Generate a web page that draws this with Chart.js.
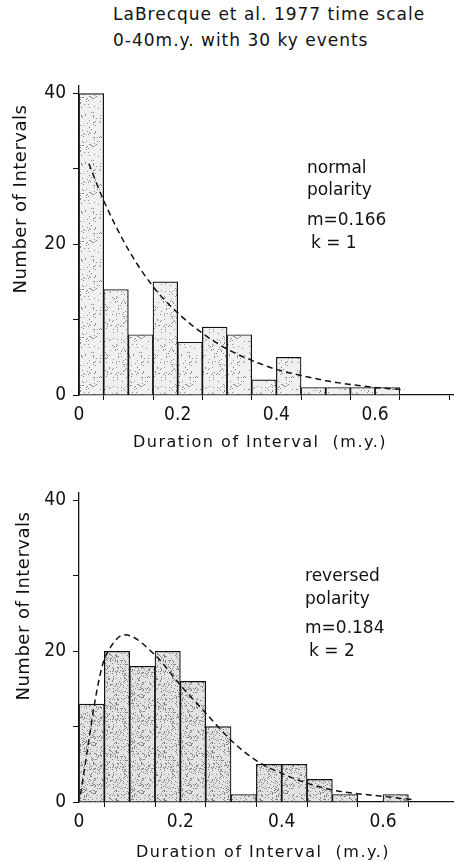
<!DOCTYPE html>
<html>
<head>
<meta charset="utf-8">
<script src="https://cdn.jsdelivr.net/npm/chart.js@4.4.0/dist/chart.umd.min.js"></script>
<style>
  body { margin:0; background:#fff; width:454px; height:862px; overflow:hidden; position:relative; font-family:"DejaVu Sans",sans-serif; }
  #head { position:absolute; left:113px; top:1px; font-size:17px; line-height:26px; color:#111; letter-spacing:1px; }
  #c1 { position:absolute; left:0; top:0; }
  #c2 { position:absolute; left:0; top:455px; }
</style>
</head>
<body>
<div id="head">LaBrecque et al. 1977 time scale<br>0-40m.y. with 30 ky events</div>
<canvas id="c1" width="454" height="455"></canvas>
<canvas id="c2" width="454" height="407"></canvas>
<script>
// histogram bins (centre of each 0.05 m.y. bin)
var binCenters = [0.025,0.075,0.125,0.175,0.225,0.275,0.325,0.375,0.425,0.475,0.525,0.575,0.625]
var normalCounts   = [40,14,8,15,7,9,8,2,5,1,1,1,1]
var reversedCounts = [13,20,18,20,16,10,1,5,5,3,1,0,1]

// dashed fitted curves
var normalCurveX = [0.02,0.05,0.1,0.15,0.2,0.25,0.3,0.35,0.4,0.45,0.5,0.55,0.6,0.66]
var normalCurveY = [30.7,25.8,19.3,14.4,10.9,8.2,6.1,4.6,3.4,2.6,1.9,1.4,1.0,0.7]
var reversedCurveX = [0.003,0.02,0.03,0.046,0.06,0.09,0.15,0.2,0.25,0.3,0.35,0.4,0.45,0.5,0.55,0.6,0.66]
var reversedCurveY = [1.0,8.4,12.8,18.1,20.3,22.2,19.5,15.5,11.8,8.2,5.5,3.8,2.5,1.6,1.1,0.75,0.3]

var yTicks = [0,10,20,30,40]
var yLabels = [0,20,40]
var xTicks = [0,0.1,0.2,0.3,0.4,0.5,0.6,0.7]
var xLabels = [0,0.2,0.4,0.6]

var normalNotes = ["normal","polarity","m=0.166","k = 1"]
var reversedNotes = ["reversed","polarity","m=0.184","k = 2"]

var FONT = '"DejaVu Sans",sans-serif'
var TICKFONT = '"DejaVu Sans Condensed","DejaVu Sans",sans-serif'

function pts(xs, ys){
    var out=[]
    for (var i=0;i<xs.length;i++) out.push({x:xs[i], y:ys[i]})
    return out
}

// stippled grey fill like the printed figure (fixed hash, no randomness)
function stipple(density, bg){
    var n = 48
    var c = document.createElement('canvas')
    c.width = n; c.height = n
    var g = c.getContext('2d')
    g.fillStyle = bg
    g.fillRect(0,0,n,n)
    g.fillStyle = 'rgba(60,60,60,0.55)'
    for (var i=0;i<n;i++){
        for (var j=0;j<n;j++){
            var h = (Math.imul(i,374761393) + Math.imul(j,668265263)) >>> 0
            h = Math.imul(h ^ (h>>>13), 1274126177) >>> 0
            h = (h ^ (h>>>16)) >>> 0
            if (h % 100 < density) g.fillRect(i,j,1,1)
        }
    }
    return g.createPattern(c,'repeat')
}

var notesPlugin = {
    id:'notes',
    afterDraw:function(chart){
        var o = chart.options.plugins.notes
        var ctx = chart.ctx, xs = chart.scales.x, ys = chart.scales.y
        ctx.save()
        ctx.fillStyle = '#111'
        ctx.font = '17px ' + FONT
        ctx.textBaseline = 'middle'
        var x0 = xs.getPixelForValue(o.x)
        for (var i=0;i<o.lines.length;i++){
            var dx = (i==3) ? 4 : 0
            ctx.fillText(o.lines[i], x0+dx, ys.getPixelForValue(o.ys[i]))
        }
        // x axis title
        ctx.textAlign = 'center'
        ctx.font = '16px ' + FONT
        ctx.letterSpacing = '1.5px'
        ctx.fillText('Duration of Interval  (m.y.)', o.xTitle[0], o.xTitle[1])
        // y axis title
        ctx.translate(o.titleX, ys.getPixelForValue(26))
        ctx.rotate(-Math.PI/2)
        ctx.font = '18px ' + FONT
        ctx.letterSpacing = '0.5px'
        ctx.fillText('Number of Intervals', 0, 0)
        ctx.restore()
    }
}

function makeChart(id, counts, cx, cy, fill, notes, noteX, noteYs, xmax, top, titleX, xTitle){
    var canvas = document.getElementById(id)
    var h = canvas.height
    return new Chart(canvas.getContext('2d'), {
        type:'bar',
        data:{
            datasets:[
                {
                    type:'line',
                    data: pts(cx, cy),
                    borderColor:'#111',
                    borderWidth:1.5,
                    borderDash:[6,4],
                    pointRadius:0,
                    tension:0.4,
                    cubicInterpolationMode:'monotone',
                    fill:false,
                    order:0
                },
                {
                    data: pts(binCenters, counts),
                    backgroundColor: fill,
                    borderColor:'#111',
                    borderWidth:1.2,
                    barPercentage:1,
                    categoryPercentage:1,
                    order:1
                }
            ]
        },
        options:{
            responsive:false,
            animation:false,
            layout:{ padding:{ top:top, right:0, left:0, bottom:0 } },
            plugins:{
                legend:{display:false},
                tooltip:{enabled:false},
                notes:{ lines:notes, x:noteX, ys:noteYs, titleX:titleX, xTitle:xTitle }
            },
            scales:{
                x:{
                    type:'linear', min:0, max:xmax, offset:false,
                    afterBuildTicks:function(s){ s.ticks = xTicks.map(function(v){return {value:v}}) },
                    afterFit:function(s){ s.height = h - top - 309 },
                    border:{ color:'#111', width:1.3 },
                    grid:{ drawOnChartArea:false, color:'#111', tickLength:5 },
                    ticks:{
                        color:'#111', font:{ family:TICKFONT, size:19 }, padding:4, maxRotation:0, autoSkip:false,
                        callback:function(v){ return xLabels.indexOf(Math.round(v*10)/10) >= 0 ? (v==0 ? '0' : v.toFixed(1)) : '' }
                    }
                },
                y:{
                    min:0, max:41,
                    afterBuildTicks:function(s){ s.ticks = yTicks.map(function(v){return {value:v}}) },
                    afterFit:function(s){ s.width = 79 },
                    border:{ color:'#111', width:1.3 },
                    grid:{ drawOnChartArea:false, color:'#111', tickLength:6 },
                    ticks:{
                        color:'#111', font:{ family:TICKFONT, size:19 }, padding:7,
                        callback:function(v){ return yLabels.indexOf(v) >= 0 ? String(v) : '' }
                    }
                }
            }
        },
        plugins:[notesPlugin]
    })
}

makeChart('c1', normalCounts, normalCurveX, normalCurveY, stipple(7,'#f0f0f0'), normalNotes, 0.462, [30,27.1,23.1,20.1], 0.76, 86, 21, [260,443])
makeChart('c2', reversedCounts, reversedCurveX, reversedCurveY, stipple(16,'#e2e2e2'), reversedNotes, 0.446, [29.9,26.9,23.0,19.9], 0.74, 38, 24, [263,398])
</script>
</body>
</html>
